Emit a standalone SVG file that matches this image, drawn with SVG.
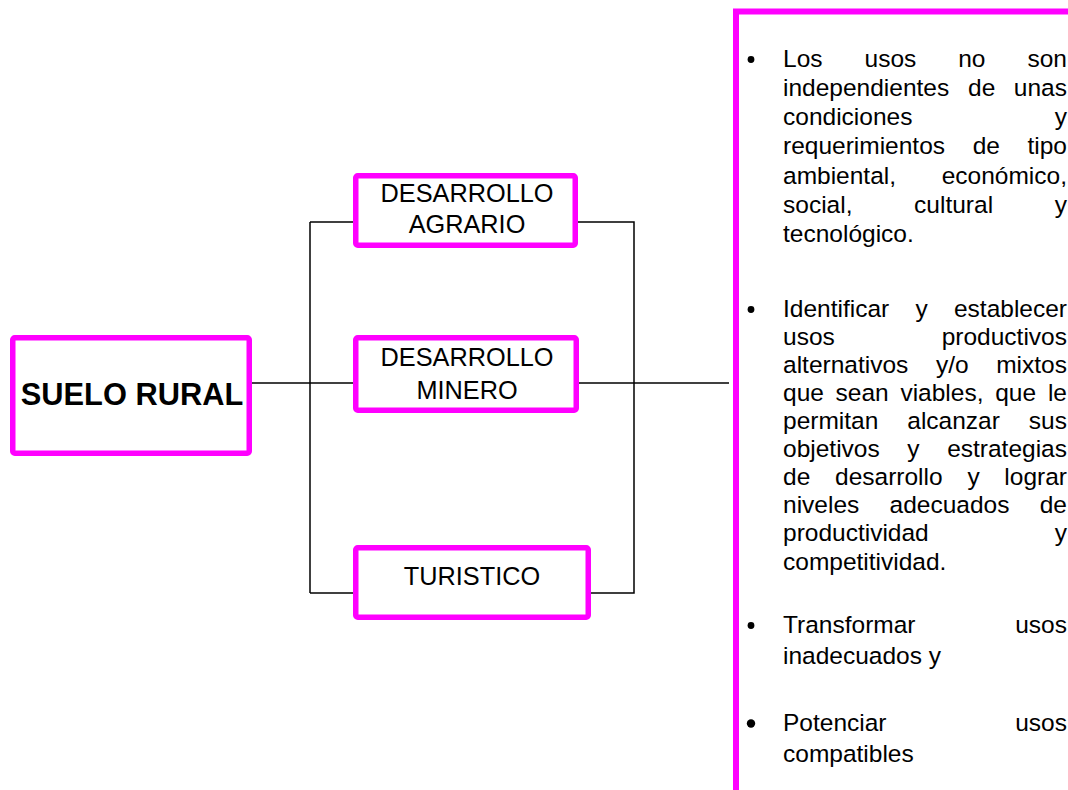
<svg xmlns="http://www.w3.org/2000/svg" width="1068" height="790" viewBox="0 0 1068 790">
<style>
.box{fill:#fff;stroke:#ff00ff;stroke-width:5.5;stroke-linejoin:round}
.big{fill:#fff;stroke:#ff00ff;stroke-width:6}
.lbl{font-family:"Liberation Sans",Arial,sans-serif;font-size:25.3px;fill:#000;text-anchor:middle}
.main{font-family:"Liberation Sans",Arial,sans-serif;font-size:30.8px;font-weight:bold;fill:#000;text-anchor:middle}
.t{font-family:"Liberation Sans",Arial,sans-serif;font-size:24.5px;fill:#000}
.r{text-anchor:end}
.con{fill:none;stroke:#000;stroke-width:1.5}
</style>
<rect width="1068" height="790" fill="#fff"/>
<g id="connectors">
<path class="con" d="M252 383H356"/>
<path class="con" d="M310 222V593"/>
<path class="con" d="M310 222H356"/>
<path class="con" d="M310 593H356"/>
<path class="con" d="M577 222H634V593H589"/>
<path class="con" d="M577 383H729"/>
</g>
<g id="suelo-rural">
<rect class="box" x="12.75" y="337.75" width="236.5" height="115.5" rx="2"/>
<text class="main" x="132" y="405">SUELO RURAL</text>
</g>
<g id="desarrollo-agrario">
<rect class="box" x="355.75" y="175.75" width="219.5" height="69.5" rx="2"/>
<text class="lbl" x="467" y="202">DESARROLLO</text>
<text class="lbl" x="467" y="233">AGRARIO</text>
</g>
<g id="desarrollo-minero">
<rect class="box" x="355.75" y="337.75" width="220.5" height="72.5" rx="2"/>
<text class="lbl" x="467" y="366">DESARROLLO</text>
<text class="lbl" x="467" y="399">MINERO</text>
</g>
<g id="turistico">
<rect class="box" x="355.75" y="547.75" width="232.5" height="69.5" rx="2"/>
<text class="lbl" x="472" y="585">TURISTICO</text>
</g>
<g id="descripcion">
<rect class="big" x="736" y="11.5" width="400" height="900"/>
<g fill="#000">
<circle cx="751" cy="59.5" r="3.4"/>
<circle cx="751" cy="309.5" r="3.4"/>
<circle cx="751" cy="625.5" r="3.4"/>
<circle cx="751" cy="723.5" r="4.2"/>
</g>
<g class="t">
<text x="783" y="67">Los</text><text x="864.5" y="67">usos</text><text x="958.2" y="67">no</text><text class="r" x="1067" y="67">son</text>
<text x="783" y="96">independientes</text><text x="968" y="96">de</text><text class="r" x="1067" y="96">unas</text>
<text x="783" y="125">condiciones</text><text class="r" x="1067" y="125">y</text>
<text x="783" y="154">requerimientos</text><text x="972.7" y="154">de</text><text class="r" x="1067" y="154">tipo</text>
<text x="783" y="184">ambiental,</text><text class="r" x="1067" y="184">económico,</text>
<text x="783" y="213">social,</text><text x="914.1" y="213">cultural</text><text class="r" x="1067" y="213">y</text>
<text x="783" y="242">tecnológico.</text>

<text x="783" y="317">Identificar</text><text x="915.5" y="317">y</text><text class="r" x="1067" y="317">establecer</text>
<text x="783" y="345">usos</text><text class="r" x="1067" y="345">productivos</text>
<text x="783" y="373">alternativos</text><text x="935.9" y="373">y/o</text><text class="r" x="1067" y="373">mixtos</text>
<text x="783" y="401">que</text><text x="835.6" y="401">sean</text><text x="900.4" y="401">viables,</text><text x="995.2" y="401">que</text><text class="r" x="1067" y="401">le</text>
<text x="783" y="429">permitan</text><text x="907.3" y="429">alcanzar</text><text class="r" x="1067" y="429">sus</text>
<text x="783" y="457">objetivos</text><text x="907.3" y="457">y</text><text class="r" x="1067" y="457">estrategias</text>
<text x="783" y="485">de</text><text x="835" y="485">desarrollo</text><text x="967.4" y="485">y</text><text class="r" x="1067" y="485">lograr</text>
<text x="783" y="513">niveles</text><text x="889.6" y="513">adecuados</text><text class="r" x="1067" y="513">de</text>
<text x="783" y="541">productividad</text><text class="r" x="1067" y="541">y</text>
<text x="783" y="570">competitividad.</text>

<text x="783" y="633">Transformar</text><text class="r" x="1067" y="633">usos</text>
<text x="783" y="664">inadecuados y</text>

<text x="783" y="731">Potenciar</text><text class="r" x="1067" y="731">usos</text>
<text x="783" y="762">compatibles</text>
</g>
</g>
</svg>
